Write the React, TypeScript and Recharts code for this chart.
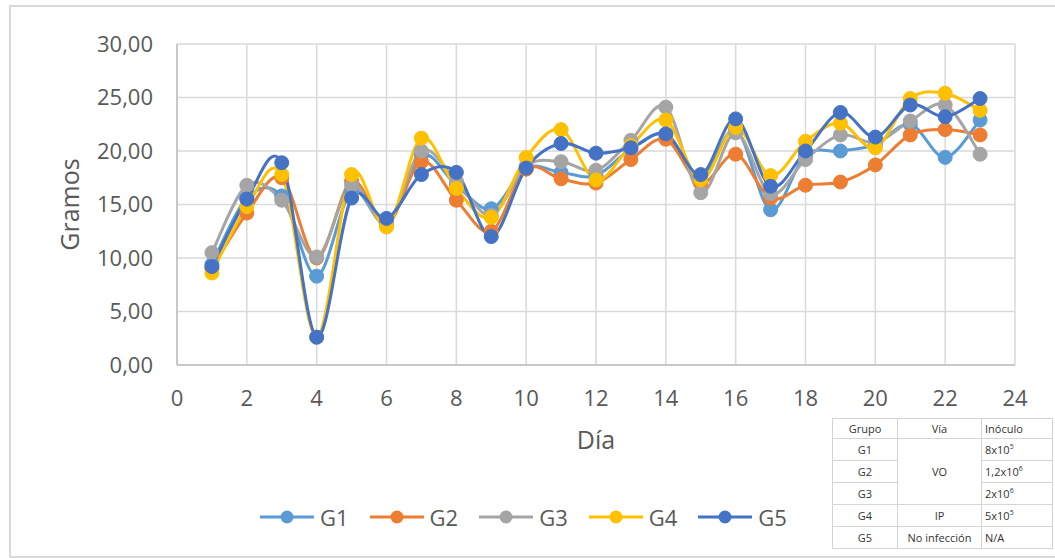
import React from 'react'
import { LineChart, Line, XAxis, YAxis, CartesianGrid, Legend, Label } from 'recharts'

const days = [1, 2, 3, 4, 5, 6, 7, 8, 9, 10, 11, 12, 13, 14, 15, 16, 17, 18, 19, 20, 21, 22, 23]

const g1 = [9.4, 15.6, 15.8, 8.3, 16.2, 13.3, 19.6, 16.8, 14.6, 18.4, 18.0, 17.7, 20.2, 21.5, 17.4, 22.0, 14.5, 19.6, 20.0, 20.6, 22.5, 19.4, 22.9]
const g2 = [9.0, 14.2, 17.5, 10.0, 17.2, 13.1, 19.0, 15.4, 12.5, 18.3, 17.4, 17.0, 19.2, 21.1, 17.0, 19.7, 15.6, 16.8, 17.1, 18.7, 21.5, 22.0, 21.5]
const g3 = [10.5, 16.8, 15.4, 10.1, 16.8, 13.2, 20.0, 17.2, 14.0, 18.6, 19.0, 18.2, 21.0, 24.1, 16.1, 21.7, 16.0, 19.2, 21.5, 20.8, 22.8, 24.3, 19.7]
const g4 = [8.6, 14.8, 17.8, 2.6, 17.8, 12.9, 21.2, 16.5, 13.8, 19.4, 22.0, 17.3, 20.5, 22.9, 17.3, 22.2, 17.7, 20.9, 22.6, 20.3, 24.9, 25.4, 23.8]
const g5 = [9.2, 15.5, 18.9, 2.6, 15.6, 13.7, 17.8, 18.0, 12.0, 18.4, 20.7, 19.8, 20.3, 21.6, 17.8, 23.0, 16.7, 20.0, 23.6, 21.3, 24.3, 23.2, 24.9]

const xTicks = [0, 2, 4, 6, 8, 10, 12, 14, 16, 18, 20, 22, 24]
const yTicks = [0, 5, 10, 15, 20, 25, 30]

const series = [
  { key: 'G1', values: g1, color: '#5B9BD5' },
  { key: 'G2', values: g2, color: '#ED7D31' },
  { key: 'G3', values: g3, color: '#A5A5A5' },
  { key: 'G4', values: g4, color: '#FFC000' },
  { key: 'G5', values: g5, color: '#4472C4' },
]

// tabla de grupos
const groups = ['G1', 'G2', 'G3', 'G4', 'G5']
const inoculoBase = ['8x10', '1,2x10', '2x10', '5x10', 'N/A']
const inoculoExp = ['5', '6', '6', '5', '']

const data = days.map((d, i) => {
  const row: Record<string, number> = { dia: d }
  series.forEach((s) => (row[s.key] = s.values[i]))
  return row
})

// suavizado tipo Excel (Catmull-Rom)
function excelCurve(context: any) {
  let pts: number[][] = []
  return {
    areaStart() {},
    areaEnd() {},
    lineStart() {
      pts = []
    },
    point(x: number, y: number) {
      pts.push([+x, +y])
    },
    lineEnd() {
      const n = pts.length
      if (!n) return
      context.moveTo(pts[0][0], pts[0][1])
      for (let i = 0; i < n - 1; i++) {
        const p0 = pts[i - 1] || pts[i]
        const p1 = pts[i]
        const p2 = pts[i + 1]
        const p3 = pts[i + 2] || p2
        context.bezierCurveTo(
          p1[0] + (p2[0] - p0[0]) / 6,
          p1[1] + (p2[1] - p0[1]) / 6,
          p2[0] - (p3[0] - p1[0]) / 6,
          p2[1] - (p3[1] - p1[1]) / 6,
          p2[0],
          p2[1]
        )
      }
    },
  }
}

const fmt = (v: number) => v.toFixed(2).replace('.', ',')

const YTitle = (props: any) => {
  const { viewBox } = props
  const cx = viewBox.x + 69
  const cy = viewBox.y + viewBox.height / 2
  return (
    <text
      x={cx}
      y={cy}
      transform={`rotate(-90 ${cx} ${cy})`}
      textAnchor="middle"
      dominantBaseline="central"
      fill="#595959"
      fontSize={25}
    >
      Gramos
    </text>
  )
}

const renderLegend = (props: any) => {
  const { payload } = props
  return (
    <div style={{ display: 'flex', paddingLeft: 260 }}>
      {payload.map((p: any) => (
        <div key={p.value} style={{ display: 'flex', alignItems: 'center', marginRight: 21 }}>
          <svg width={54} height={18}>
            <line x1={0} y1={9} x2={54} y2={9} stroke={p.color} strokeWidth={3} />
            <circle cx={27} cy={9} r={6.5} fill={p.color} />
          </svg>
          <span style={{ marginLeft: 6, fontSize: 22, color: '#595959', lineHeight: '24px' }}>{p.value}</span>
        </div>
      ))}
    </div>
  )
}

const cell: React.CSSProperties = {
  border: '1px solid #d4d4d4',
  padding: '0 3px',
  textAlign: 'center',
  whiteSpace: 'nowrap',
}

export default function App() {
  return (
    <div
      style={{
        position: 'absolute',
        left: 0,
        top: 0,
        width: 1055,
        height: 558,
        background: '#fff',
        overflow: 'hidden',
        fontFamily: '"Open Sans", sans-serif',
      }}
    >
      <div
        style={{
          position: 'absolute',
          left: 9,
          top: 5,
          width: 1060,
          height: 549,
          border: '2px solid #d9d9d9',
        }}
      />
      <div style={{ position: 'absolute', left: 0, top: 0 }}>
        <LineChart width={1055} height={558} data={data} margin={{ top: 44, right: 40, bottom: 93, left: 0 }}>
          <CartesianGrid stroke="#d9d9d9" strokeWidth={1.5} verticalValues={xTicks} horizontalValues={yTicks} />
          <XAxis
            dataKey="dia"
            type="number"
            domain={[0, 24]}
            ticks={xTicks}
            height={100}
            tickLine={false}
            tickSize={0}
            tickMargin={25}
            axisLine={{ stroke: '#bfbfbf', strokeWidth: 1.5 }}
            tick={{ fill: '#595959', fontSize: 22 }}
          >
            <Label value="Día" position="insideBottom" offset={16} fill="#595959" fontSize={25} />
          </XAxis>
          <YAxis
            type="number"
            domain={[0, 30]}
            ticks={yTicks}
            width={177}
            tickLine={false}
            tickSize={0}
            tickMargin={24}
            axisLine={{ stroke: '#bfbfbf', strokeWidth: 1.5 }}
            tickFormatter={fmt}
            tick={{ fill: '#595959', fontSize: 22 }}
          >
            <Label content={<YTitle />} />
          </YAxis>
          <Legend
            layout="horizontal"
            verticalAlign="middle"
            align="center"
            content={renderLegend}
            wrapperStyle={{ top: 505, left: 0, width: 1055 }}
          />
          {series.map((s) => (
            <Line
              key={s.key}
              dataKey={s.key}
              name={s.key}
              type={excelCurve as any}
              stroke={s.color}
              strokeWidth={3}
              dot={{ r: 7, fill: s.color, stroke: s.color, strokeWidth: 1 }}
              activeDot={false}
              isAnimationActive={false}
            />
          ))}
        </LineChart>
      </div>
      <table
        style={{
          position: 'absolute',
          left: 832,
          top: 418,
          borderCollapse: 'collapse',
          background: '#fff',
          fontSize: 11,
          color: '#333',
          tableLayout: 'fixed',
        }}
      >
        <colgroup>
          <col style={{ width: 65 }} />
          <col style={{ width: 84 }} />
          <col style={{ width: 71 }} />
        </colgroup>
        <tbody>
          <tr style={{ height: 20 }}>
            <td style={cell}>Grupo</td>
            <td style={cell}>Vía</td>
            <td style={{ ...cell, textAlign: 'left' }}>Inóculo</td>
          </tr>
          {groups.map((g, i) => (
            <tr key={g} style={{ height: 22 }}>
              <td style={cell}>{g}</td>
              {i === 0 && (
                <td style={cell} rowSpan={3}>
                  VO
                </td>
              )}
              {i === 3 && <td style={cell}>IP</td>}
              {i === 4 && <td style={cell}>No infección</td>}
              <td style={{ ...cell, textAlign: 'left' }}>
                {inoculoBase[i]}
                {inoculoExp[i] && <sup style={{ fontSize: 7 }}>{inoculoExp[i]}</sup>}
              </td>
            </tr>
          ))}
        </tbody>
      </table>
    </div>
  )
}
